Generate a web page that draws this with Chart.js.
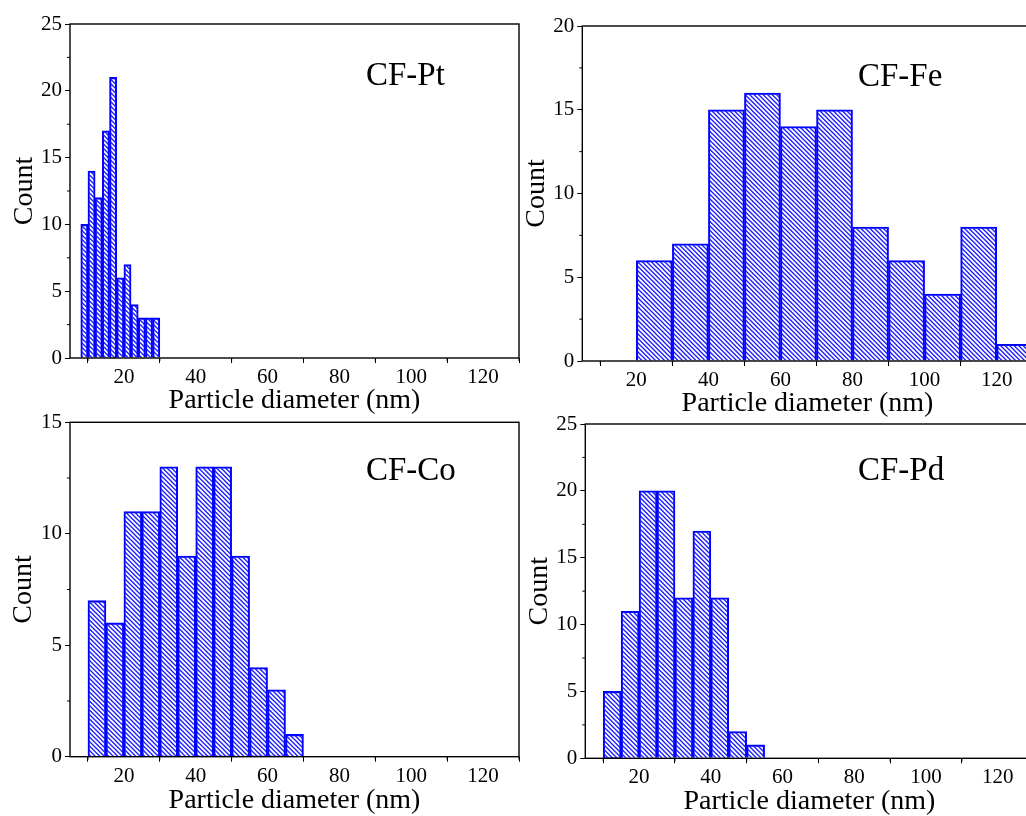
<!DOCTYPE html>
<html><head><meta charset="utf-8">
<script src="https://cdn.jsdelivr.net/npm/chart.js@4/dist/chart.umd.min.js"></script>
<style>
html,body{margin:0;padding:0;background:#fff;overflow:hidden;width:1026px;height:816px;position:relative}
canvas{position:absolute}
</style></head><body>
<canvas id="c1"></canvas><canvas id="c2"></canvas><canvas id="c3"></canvas><canvas id="c4"></canvas>
<script>
// ---- data ----
const ptCenters = [9, 11, 13, 15, 17, 19, 21, 23, 25, 27, 29];
const ptCounts  = [10, 14, 12, 17, 21, 6, 7, 4, 3, 3, 3];
const feCenters = [25, 35, 45, 55, 65, 75, 85, 95, 105, 115, 125];
const feCounts  = [6, 7, 15, 16, 14, 15, 8, 6, 4, 8, 1];
const coCenters = [12.5, 17.5, 22.5, 27.5, 32.5, 37.5, 42.5, 47.5, 52.5, 57.5, 62.5, 67.5];
const coCounts  = [7, 6, 11, 11, 13, 9, 13, 13, 9, 4, 3, 1];
const pdCenters = [12.5, 17.5, 22.5, 27.5, 32.5, 37.5, 42.5, 47.5, 52.5];
const pdCounts  = [5, 11, 20, 20, 12, 17, 12, 2, 1];
const xTickValues = [20, 40, 60, 80, 100, 120];
const xMinorTicks = [10, 30, 50, 70, 90, 110, 130];
const ptYTicks = [0, 5, 10, 15, 20, 25];
const feYTicks = [0, 5, 10, 15, 20];
const coYTicks = [0, 5, 10, 15];
const pdYTicks = [0, 5, 10, 15, 20, 25];
const xTitle = 'Particle diameter (nm)';
const yTitle = 'Count';

const SERIF = '"Liberation Serif", "Times New Roman", serif';

function makeHatch() {
  const s = 9, c = document.createElement('canvas');
  c.width = s; c.height = s;
  const g = c.getContext('2d');
  g.strokeStyle = '#1a1aff'; g.lineWidth = 1.3;
  for (let k = -2; k <= 2; k++) {
    const off = k * s / 2;
    g.beginPath(); g.moveTo(off - 2, -2); g.lineTo(off + s + 2, s + 2); g.stroke();
  }
  return g.createPattern(c, 'repeat');
}

const framePlugin = {
  id: 'frame',
  afterDatasetsDraw(chart, args, o) {
    const {ctx, chartArea: a, scales} = chart;
    ctx.save();
    ctx.strokeStyle = '#000'; ctx.lineWidth = 1;
    o.xMinor.forEach(v => {
      const px = scales.x.getPixelForValue(v);
      if (px < a.left - 0.5 || px > a.right + 0.5) return;
      ctx.beginPath(); ctx.moveTo(px, a.bottom); ctx.lineTo(px, a.bottom + 3); ctx.stroke();
    });
    o.yMinor.forEach(v => {
      const py = scales.y.getPixelForValue(v);
      ctx.beginPath(); ctx.moveTo(a.left, py); ctx.lineTo(a.left - 3, py); ctx.stroke();
    });
    ctx.lineWidth = 1.4;
    ctx.strokeRect(a.left, a.top, a.right - a.left, a.bottom - a.top);
    ctx.font = '33px ' + SERIF; ctx.fillStyle = '#000'; ctx.textBaseline = 'alphabetic'; ctx.textAlign = 'left';
    ctx.fillText(o.text, o.tx, o.ty);
    ctx.restore();
  }
};

function makePanel(p) {
  const cv = document.getElementById(p.id);
  cv.width = p.w; cv.height = p.h;
  cv.style.left = p.left + 'px'; cv.style.top = p.top + 'px';
  cv.style.width = p.w + 'px'; cv.style.height = p.h + 'px';
  const yMinor = [];
  for (let i = 1; i < p.yTicks.length; i++) yMinor.push((p.yTicks[i - 1] + p.yTicks[i]) / 2);
  new Chart(cv, {
    type: 'bar',
    data: {
      datasets: [{
        data: p.centers.map((c, i) => ({x: c, y: p.counts[i]})),
        backgroundColor: makeHatch(),
        borderColor: '#0000ff',
        borderWidth: 1.4,
        barPercentage: 1,
        categoryPercentage: 1
      }]
    },
    options: {
      responsive: false,
      devicePixelRatio: 1,
      animation: false,
      layout: {padding: {left: 0, top: p.area.t, right: p.w - p.area.r, bottom: p.h - p.area.b - p.xH}},
      plugins: {
        legend: {display: false},
        tooltip: {enabled: false},
        frame: {xMinor: xMinorTicks, yMinor: yMinor, text: p.label, tx: p.lx - p.left, ty: p.ly - p.top}
      },
      scales: {
        x: {
          type: 'linear', min: 5, max: 130, offset: false,
          afterBuildTicks: s => { s.ticks = xTickValues.map(v => ({value: v})); },
          afterFit: s => { s.height = p.xH; },
          grid: {drawOnChartArea: false, drawTicks: true, tickLength: 5, color: '#000', lineWidth: 1},
          border: {display: false},
          ticks: {color: '#000', font: {family: SERIF, size: 21}, padding: 2, maxRotation: 0, autoSkip: false},
          title: {display: true, text: xTitle, color: '#000', font: {family: SERIF, size: 28}, padding: 0}
        },
        y: {
          type: 'linear', min: 0, max: p.yTicks[p.yTicks.length - 1],
          afterBuildTicks: s => { s.ticks = p.yTicks.map(v => ({value: v})); },
          afterFit: s => { s.width = p.area.l; },
          grid: {drawOnChartArea: false, drawTicks: true, tickLength: 5, color: '#000', lineWidth: 1},
          border: {display: false},
          ticks: {color: '#000', font: {family: SERIF, size: 21}, padding: 3},
          title: {display: true, text: yTitle, color: '#000', font: {family: SERIF, size: 28}, padding: {top: p.yPad, bottom: 0}}
        }
      }
    },
    plugins: [framePlugin]
  });
}

makePanel({id: 'c1', left: 0, top: 0, w: 520, h: 420, area: {l: 70, r: 519, t: 24, b: 358}, xH: 59.8, yPad: 7.7,
  centers: ptCenters, counts: ptCounts, yTicks: ptYTicks, label: 'CF-Pt', lx: 366, ly: 85});
makePanel({id: 'c2', left: 520, top: 0, w: 520, h: 420, area: {l: 62.3, r: 512.7, t: 26, b: 361}, xH: 59, yPad: 0,
  centers: feCenters, counts: feCounts, yTicks: feYTicks, label: 'CF-Fe', lx: 858, ly: 86});
makePanel({id: 'c3', left: 0, top: 400, w: 520, h: 420, area: {l: 70, r: 519, t: 22.3, b: 356.7}, xH: 61.1, yPad: 7,
  centers: coCenters, counts: coCounts, yTicks: coYTicks, label: 'CF-Co', lx: 366, ly: 480});
makePanel({id: 'c4', left: 520, top: 400, w: 520, h: 420, area: {l: 65.3, r: 513.6, t: 24, b: 358.3}, xH: 60, yPad: 3,
  centers: pdCenters, counts: pdCounts, yTicks: pdYTicks, label: 'CF-Pd', lx: 858, ly: 480});
</script>
</body></html>
